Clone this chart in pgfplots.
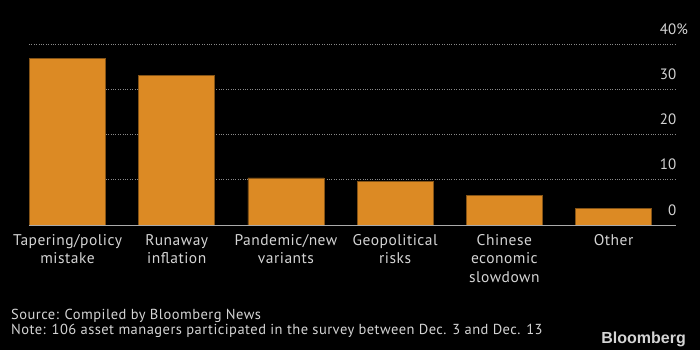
\documentclass[border=0pt]{standalone}
\usepackage{pgfplots}
\pgfplotsset{compat=1.18}
\usepackage{fontspec}
\setmainfont{PT Sans}
\newfontfamily\spaced[LetterSpace=3.2]{PT Sans}
\newfontfamily\logofont{Liberation Sans}
\definecolor{barc}{HTML}{DC8A24}
\definecolor{txt}{HTML}{D4D4D4}
\definecolor{gridc}{HTML}{8A8A8A}
\begin{document}
\begin{tikzpicture}[x=1pt,y=1pt]
\fill[black] (-29,-125) rectangle (671,225);
\useasboundingbox (-29,-125) rectangle (671,225);
\begin{axis}[
  at={(0,0)}, anchor=south west,
  scale only axis, width=647pt, height=181pt,
  xmin=-0.353, xmax=5.572, ymin=0, ymax=40,
  axis line style={draw=none},
  ybar, bar width=0.696, bar shift=0pt,
  xtick=data, xticklabels={Tapering/policy\\mistake,Runaway\\inflation,Pandemic/new\\variants,Geopolitical\\risks,Chinese\\economic\\slowdown,Other},
  xticklabel style={align=center, font=\spaced\fontsize{15.5}{18.5}\selectfont, text=txt, anchor=north, inner sep=0pt, yshift=-9pt},
  major tick length=0pt,
  tick style={draw=none},
  ytick={0,10,20,30,40},
  yticklabels={0,10,20,30,40\rlap{\%}},
  yticklabel pos=right,
  yticklabel style={anchor=south east, inner sep=0pt, yshift=9.5pt, xshift=0.5pt, font=\fontsize{15}{16}\selectfont, text=txt},
  ymajorgrids=true,
  grid style={gridc, dotted, line width=0.8pt},
  clip=false,
]
\addplot[fill=barc, draw=barc!60!black, line width=0.6pt] coordinates {(0,36.8) (1,33.1) (2,10.4) (3,9.6) (4,6.6) (5,3.7)};
\draw[txt!80!black, line width=0.9pt] (axis cs:-0.353,0) -- (axis cs:5.572,0);
\end{axis}
\node[anchor=base west, inner sep=0pt, text=txt, font=\spaced\fontsize{14.5}{17}\selectfont] at (-18,-94) {Source: Compiled by Bloomberg News};
\node[anchor=base west, inner sep=0pt, text=txt, font=\spaced\fontsize{14.5}{17}\selectfont] at (-18,-109) {Note: 106 asset managers participated in the survey between Dec. 3 and Dec. 13};
\node[anchor=base east, inner sep=0pt, text=txt, font=\logofont\bfseries\fontsize{16}{18}\selectfont] at (657,-118) {Bloomberg};
\end{tikzpicture}
\end{document}
